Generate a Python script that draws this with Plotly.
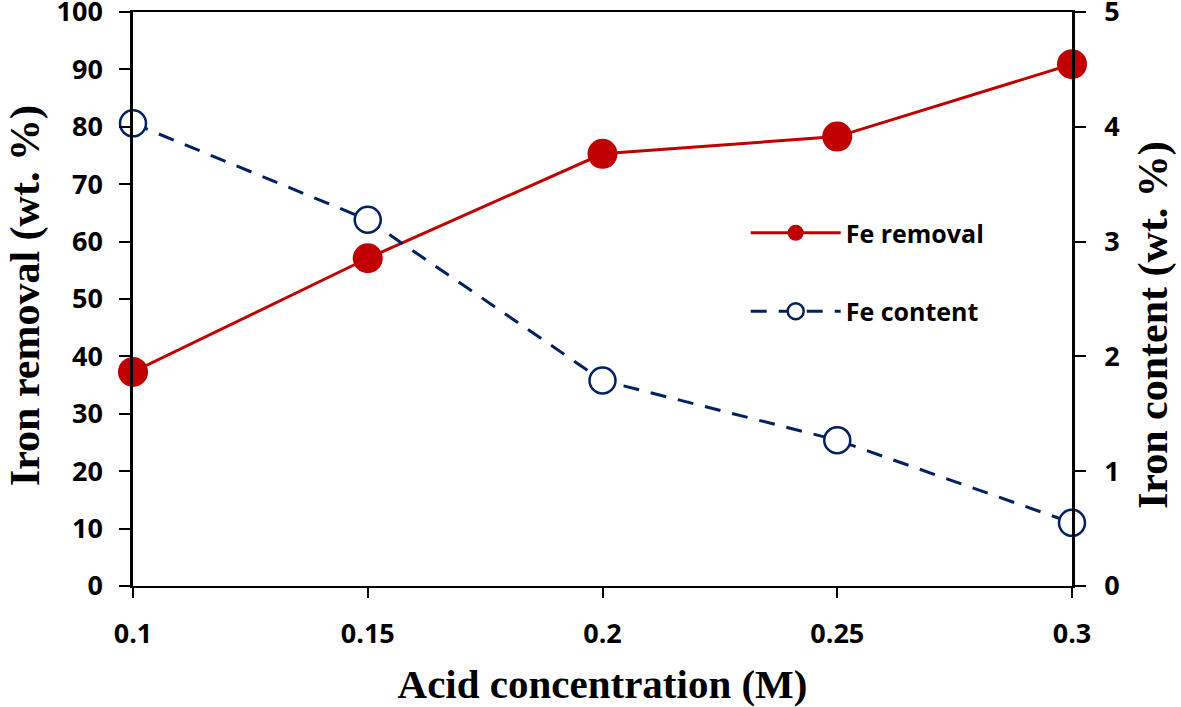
import plotly.graph_objects as go

acid = [0.1, 0.15, 0.2, 0.25, 0.3]
fe_removal = [37.3, 57.1, 75.3, 78.3, 90.9]
fe_content = [4.03, 3.19, 1.79, 1.27, 0.55]

x_ticks = [0.1, 0.15, 0.2, 0.25, 0.3]
x_labels = ["0.1", "0.15", "0.2", "0.25", "0.3"]
y1_ticks = [0, 10, 20, 30, 40, 50, 60, 70, 80, 90, 100]
y2_ticks = [0, 1, 2, 3, 4, 5]

red = "#C00000"
navy = "#002060"
tickfont = dict(family="Open Sans", size=27, color="black", weight="bold")
titlefont = dict(family="Liberation Serif", size=41, color="black", weight="bold")
ytitlefont = dict(family="Liberation Serif", size=42, color="black", weight="bold")

fig = go.Figure()
fig.add_trace(go.Scatter(
    x=acid, y=fe_removal, name="Fe removal", mode="lines+markers",
    legendgroup="a",
    line=dict(color=red, width=3),
    marker=dict(color=red, size=30, line=dict(width=0)),
    cliponaxis=False, yaxis="y"))
fig.add_trace(go.Scatter(
    x=acid, y=fe_content, name="Fe content", mode="lines+markers",
    legendgroup="b",
    line=dict(color=navy, width=3, dash="16px,12px"),
    marker=dict(color="white", size=26, line=dict(color=navy, width=2.5)),
    cliponaxis=False, yaxis="y2"))

fig.update_layout(
    width=1181, height=707,
    margin=dict(l=133, r=109, t=12, b=121, autoexpand=False),
    plot_bgcolor="white", paper_bgcolor="white",
    showlegend=True,
    legend=dict(x=0.6525, y=0.655, xanchor="left", yanchor="top",
                font=dict(family="Open Sans", size=25, color="black", weight="bold"),
                bgcolor="rgba(0,0,0,0)", tracegroupgap=43, itemwidth=90),
    xaxis=dict(range=[0.1, 0.3], tickvals=x_ticks, ticktext=x_labels,
               showgrid=False, zeroline=False, showline=True, linecolor="black",
               linewidth=1.5, mirror=True, ticks="outside", ticklen=10, tickwidth=1.5,
               tickcolor="black", tickfont=tickfont, automargin=False,
               ticklabeloverflow="allow", ticklabelstandoff=13,
               title=dict(text="Acid concentration (M)", font=titlefont, standoff=22)),
    yaxis=dict(range=[0, 100], tickvals=y1_ticks, showgrid=False, zeroline=False,
               showline=True, linecolor="black", linewidth=2.5,
               ticks="outside", ticklen=11, tickwidth=2, tickcolor="black",
               tickfont=tickfont, automargin=False, ticklabeloverflow="allow",
               ticklabelstandoff=11),
    yaxis2=dict(range=[0, 5], tickvals=y2_ticks, overlaying="y", side="right",
                showgrid=False, zeroline=False, showline=True, linecolor="black",
                linewidth=2.5, ticks="outside", ticklen=11, tickwidth=2,
                tickcolor="black", tickfont=tickfont, automargin=False,
                ticklabeloverflow="allow", ticklabelstandoff=13),
    annotations=[
        dict(text="Iron removal (wt. %)", xref="paper", yref="paper",
             x=-0.115, y=0.505, xanchor="center", yanchor="middle",
             textangle=-90, showarrow=False, font=ytitlefont),
        dict(text="Iron content (wt. %)", xref="paper", yref="paper",
             x=1.0875, y=0.455, xanchor="center", yanchor="middle",
             textangle=-90, showarrow=False, font=ytitlefont),
    ],
)

fig.write_html("out.html", config={"displayModeBar": False})

with open("out.html", "r", encoding="utf-8") as f:
    html = f.read()
html = html.replace("<head>", "<head><style>html,body{margin:0;padding:0;overflow:hidden;}</style>", 1)
with open("out.html", "w", encoding="utf-8") as f:
    f.write(html)
